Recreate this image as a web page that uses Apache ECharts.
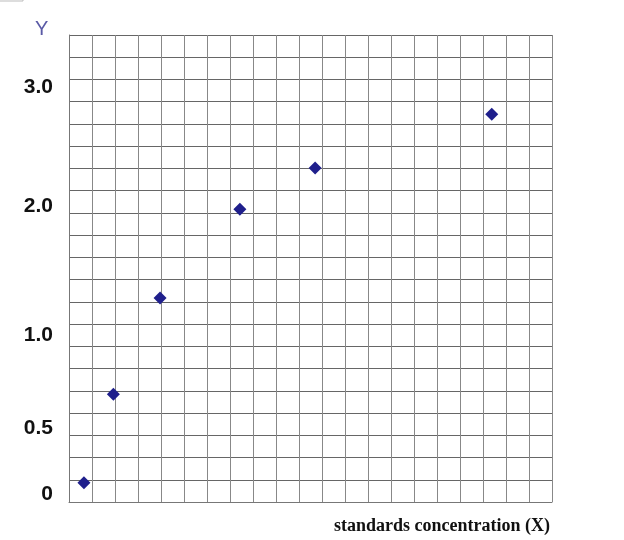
<!DOCTYPE html>
<html>
<head>
<meta charset="utf-8">
<script src="https://cdn.jsdelivr.net/npm/echarts@6/dist/echarts.min.js"></script>
<style>html,body{margin:0;padding:0;background:#fff}#c{width:624px;height:540px}</style>
</head>
<body>
<div id="c"></div>
<script>
// Data (in grid units of the plot: 21 columns x 21 rows)
var xValues = [0.65, 1.93, 3.96, 7.43, 10.7, 18.38];
var yValues = [0.87, 4.85, 9.17, 13.16, 15.02, 17.44];
// Y tick labels and where they sit (grid-row units from the bottom)
var yTickLabels = ['0', '0.5', '1.0', '2.0', '3.0'];
var yTickPositions = [0.36, 3.31, 7.48, 13.29, 18.66];
var yTitle = 'Y';
var xTitle = 'standards concentration (X)';

var points = xValues.map(function (x, i) { return [x, yValues[i]]; });

var chart = echarts.init(document.getElementById('c'), null, { renderer: 'canvas' });
chart.setOption({
  animation: false,
  backgroundColor: '#fff',
  title: [
    { text: yTitle, left: 30, top: 14, textStyle: { fontFamily: 'Liberation Sans, Arial, sans-serif', fontWeight: 'normal', fontSize: 20, color: '#5a5aa6' } },
    { text: xTitle, right: 69, top: 512, textStyle: { fontFamily: 'Liberation Serif, Times New Roman, serif', fontWeight: 'bold', fontSize: 18, color: '#111' } }
  ],
  graphic: [
    { type: 'rect', shape: { x: -2, y: -4, width: 25, height: 5 }, style: { fill: 'none', stroke: '#bbb', lineWidth: 1 } }
  ],
  grid: { left: 69, right: 72, top: 35, bottom: 38, containLabel: false },
  xAxis: {
    type: 'value', min: 0, max: 21, interval: 1,
    axisLine: { show: true, lineStyle: { color: '#777', width: 1 } },
    axisTick: { show: false }, axisLabel: { show: false },
    splitLine: { show: true, lineStyle: { color: '#888', width: 1 } }
  },
  yAxis: [
    {
      type: 'value', min: 0, max: 21, interval: 1,
      axisLine: { show: true, lineStyle: { color: '#777', width: 1 } },
      axisTick: { show: false }, axisLabel: { show: false },
      splitLine: { show: true, lineStyle: { color: '#666', width: 1 } }
    },
    {
      type: 'value', min: 0, max: 21, position: 'left', offset: 0,
      axisLine: { show: false }, axisTick: { show: false }, splitLine: { show: false },
      axisLabel: {
        show: true, margin: 16, customValues: yTickPositions,
        fontFamily: 'Liberation Sans, Arial, sans-serif', fontWeight: 'bold', fontSize: 21, color: '#111',
        formatter: function (v) {
          for (var i = 0; i < yTickPositions.length; i++) {
            if (Math.abs(yTickPositions[i] - v) < 1e-6) return yTickLabels[i];
          }
          return '';
        }
      }
    }
  ],
  series: [{
    type: 'scatter', data: points, yAxisIndex: 0,
    symbol: 'diamond', symbolSize: 13,
    itemStyle: { color: '#1f1f8c', opacity: 1 }
  }]
});
</script>
</body>
</html>
